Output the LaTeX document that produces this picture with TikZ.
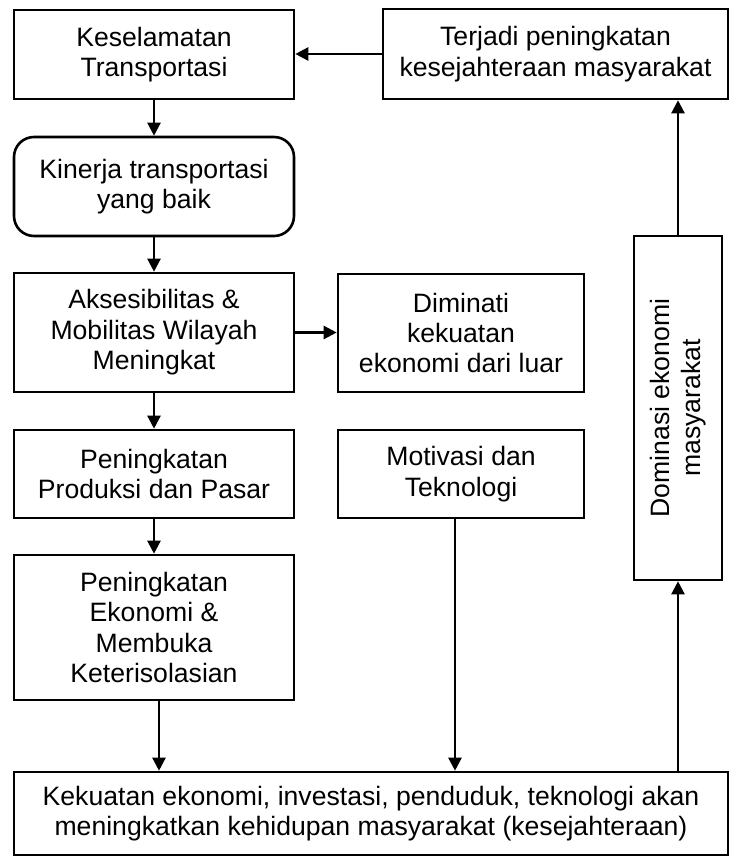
\documentclass[tikz,border=0pt]{standalone}
\usepackage{fontspec}
\setmainfont{Liberation Sans}
\usetikzlibrary{arrows.meta,calc,positioning}
\tikzset{
  box/.style  = {draw, line width=1.3pt, fill=white, align=center, inner sep=2pt,
                 font=\fontsize{13.3}{15.2}\selectfont},
  rbox/.style = {box, rounded corners=10pt},
  txt/.style  = {align=center, font=\fontsize{13.3}{15.2}\selectfont},
  flow/.style = {-{Triangle[length=6.5pt,width=6.5pt]}, line width=1.2pt},
}

\begin{document}
\begin{tikzpicture}[x=0.5pt,y=-0.5pt]
  \useasboundingbox (0,0) rectangle (730,856);
  % left column
  \node[box, minimum width=140pt, minimum height=44.5pt] (kes) at (154,54.5)
      {Keselamatan\\Transportasi};
  \node[rbox, minimum width=140pt, minimum height=49.5pt] (kin) at (154,186.5)
      {Kinerja transportasi\\yang baik};
  \node[box, minimum width=140pt, minimum height=59.5pt] (akses) at (154,332.5)
      {Aksesibilitas \&\\Mobilitas Wilayah\\Meningkat};
  \node[box, minimum width=140pt, minimum height=44pt] (prod) at (154,474)
      {Peningkatan\\Produksi dan Pasar};
  \node[box, minimum width=140pt, minimum height=72.5pt] (ekon) at (154,627.5)
      {Peningkatan\\Ekonomi \&\\Membuka\\Keterisolasian};
  % middle column
  \node[box, minimum width=123pt, minimum height=59pt] (dimin) at (461,333)
      {Diminati\\kekuatan\\ekonomi dari luar};
  \node[box, minimum width=123pt, minimum height=44pt] (motiv) at (461,474)
      {Motivasi dan\\Teknologi};
  % right side
  \node[box, minimum width=172.5pt, minimum height=45pt] (terj) at (555.5,54)
      {Terjadi peningkatan\\kesejahteraan masyarakat};
  \node[box, minimum width=44pt, minimum height=172pt] (dom) at (678,408) {};
  \node[txt, rotate=90] (domtxt) at (dom.center) {Dominasi ekonomi\\masyarakat};
  % bottom
  \node[box, minimum width=357pt, minimum height=41.5pt] (kuat) at (371,813.5)
      {Kekuatan ekonomi, investasi, penduduk, teknologi akan\\
       meningkatkan kehidupan masyarakat (kesejahteraan)};

  % arrows
  \draw[flow] (terj.west) -- (terj.west -| kes.east);
  \draw[flow] (kes.south) -- (kin.north);
  \draw[flow] (kin.south) -- (akses.north);
  \draw[flow] (akses.east) -- (akses.east -| dimin.west);
  \draw[flow] (akses.south) -- (prod.north);
  \draw[flow] (prod.south) -- (ekon.north);
  \draw[flow] ([xshift=2.5pt]ekon.south) -- ([xshift=2.5pt]ekon.south |- kuat.north);
  \draw[flow] ([xshift=-3pt]motiv.south) -- ([xshift=-3pt]motiv.south |- kuat.north);
  \draw[flow] (dom.south |- kuat.north) -- (dom.south);
  \draw[flow] (dom.north) -- (dom.north |- terj.south);
\end{tikzpicture}
\end{document}
